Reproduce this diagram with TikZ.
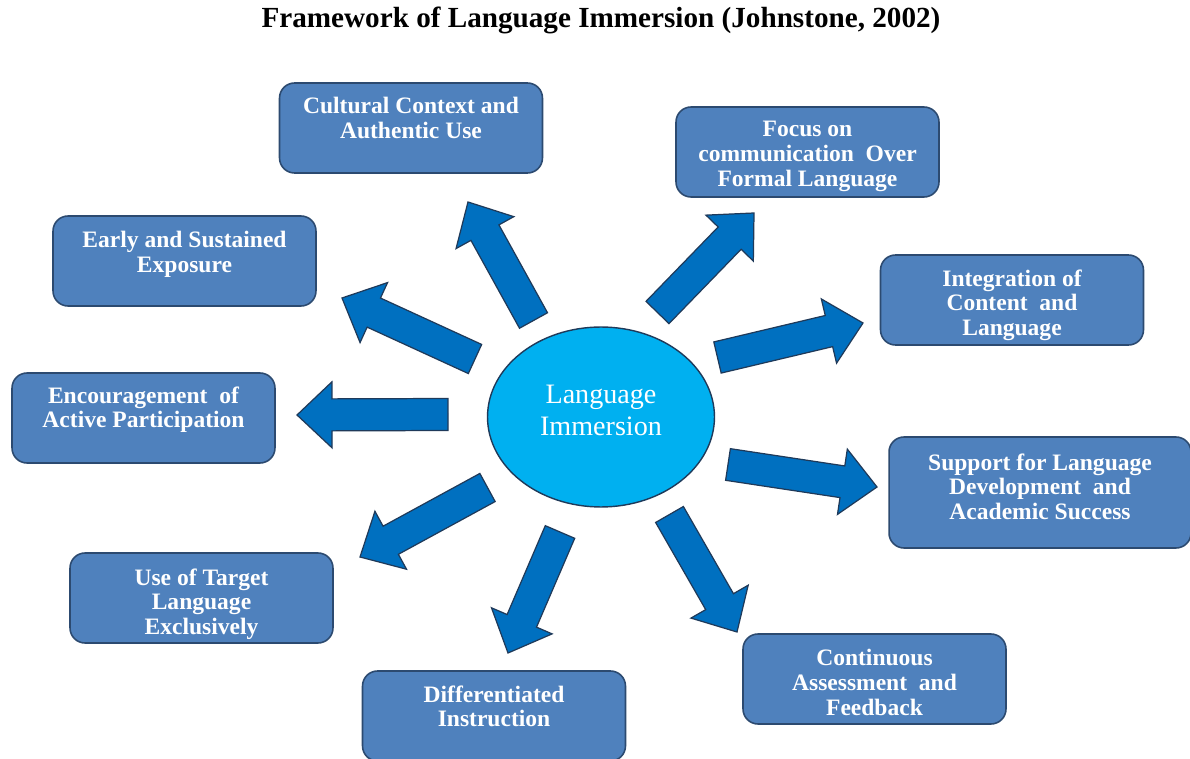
\documentclass[tikz,border=0pt]{standalone}
\usepackage{fontspec}
\setmainfont{Liberation Serif}
\usetikzlibrary{calc,shapes.geometric}
\definecolor{boxfill}{HTML}{4F81BD}
\definecolor{boxline}{HTML}{2C4A70}
\definecolor{arrfill}{HTML}{0070C0}
\definecolor{arrline}{HTML}{1F3A5A}
\definecolor{ellfill}{HTML}{00B0F0}
\tikzset{
 box/.style={draw=boxline, fill=boxfill, rounded corners=0.3cm, line width=0.9pt,
   minimum width=5.26cm, minimum height=1.8cm, inner sep=0pt},
 btext/.style={text=white, font=\fontsize{13.4}{14}\selectfont\bfseries, align=center,
   inner sep=0pt, anchor=north},
 blockarr/.style={draw=arrline, fill=arrfill, line width=0.7pt, line join=miter},
 hub/.style={ellipse, draw=arrline, fill=ellfill, line width=0.8pt,
   minimum width=4.54cm, minimum height=3.6cm, inner sep=0pt},
 hubtext/.style={text=white, font=\fontsize{16}{18.5}\selectfont, align=center, inner sep=0pt},
 titletext/.style={font=\fontsize{16.6}{19}\selectfont\bfseries, inner sep=0pt}
}
\newcommand\blockarrow[2]{%
 \coordinate (#1-h) at ($(#2)!0.7cm!(#1)$);
 \draw[blockarr] ($(#1)!0.32cm!90:(#2)$) -- ($(#1-h)!0.32cm!90:(#2)$)
   -- ($(#1-h)!0.66cm!90:(#2)$) -- (#2) -- ($(#1-h)!0.66cm!-90:(#2)$)
   -- ($(#1-h)!0.32cm!-90:(#2)$) -- ($(#1)!0.32cm!-90:(#2)$) -- cycle;}
\begin{document}
\begin{tikzpicture}[x=0.02cm,y=-0.02cm]
\useasboundingbox (0,0) rectangle (1190,759);
\fill[white] (0,0) rectangle (1190,759);

\node[titletext] (title) at (601,20) {Framework of Language Immersion (Johnstone, 2002)};

% boxes
\node[box] (b1) at (411,128) {};
\node[box] (b2) at (807.5,152) {};
\node[box] (b3) at (184.5,261) {};
\node[box] (b4) at (1012,300) {};
\node[box] (b5) at (143.5,418) {};
\node[box, minimum width=6.04cm, minimum height=2.22cm] (b6) at (1040,492.5) {};
\node[box] (b7) at (201.5,598) {};
\node[box] (b8) at (494,716) {};
\node[box] (b9) at (874.5,679) {};

\node[btext] (t1) at ([yshift=-15*0.02cm]b1.north) {Cultural Context and\\Authentic Use};
\node[btext] (t2) at ([yshift=-15*0.02cm]b2.north) {Focus on\\communication\ \ Over\\Formal Language};
\node[btext] (t3) at ([yshift=-16*0.02cm]b3.north) {Early and Sustained\\Exposure};
\node[btext] (t4) at ([yshift=-15*0.02cm]b4.north) {Integration of\\Content\ \ and\\Language};
\node[btext] (t5) at ([yshift=-14*0.02cm]b5.north) {Encouragement\ \ of\\Active Participation};
\node[btext] (t6) at ([yshift=-17*0.02cm]b6.north) {Support for Language\\Development\ \ and\\Academic Success};
\node[btext] (t7) at ([yshift=-16*0.02cm]b7.north) {Use of Target\\Language\\Exclusively};
\node[btext] (t8) at ([yshift=-15*0.02cm]b8.north) {Differentiated\\Instruction};
\node[btext] (t9) at ([yshift=-16*0.02cm]b9.north) {Continuous\\Assessment\ \ and\\Feedback};

% centre
\node[hub] (c) at (601,417) {};
\node[hubtext] (ct) at (601,410.5) {Language\\Immersion};

% arrows
\coordinate (a1) at (533.5,320.5); \coordinate (p1) at (468,202);
\coordinate (a2) at (475,359);     \coordinate (p2) at (342,298);
\coordinate (a3) at (448,414.5);   \coordinate (p3) at (297,415);
\coordinate (a4) at (657.5,312.5); \coordinate (p4) at (754,213);
\coordinate (a5) at (717.5,357.5); \coordinate (p5) at (863,323);
\coordinate (a6) at (728,464.5);   \coordinate (p6) at (877,487);
\coordinate (a7) at (487.5,487.5); \coordinate (p7) at (360,557);
\coordinate (a8) at (560,532);     \coordinate (p8) at (508,653);
\coordinate (a9) at (669.5,514.5); \coordinate (p9) at (737,632);
\blockarrow{a1}{p1}
\blockarrow{a2}{p2}
\blockarrow{a3}{p3}
\blockarrow{a4}{p4}
\blockarrow{a5}{p5}
\blockarrow{a6}{p6}
\blockarrow{a7}{p7}
\blockarrow{a8}{p8}
\blockarrow{a9}{p9}
\end{tikzpicture}
\end{document}
